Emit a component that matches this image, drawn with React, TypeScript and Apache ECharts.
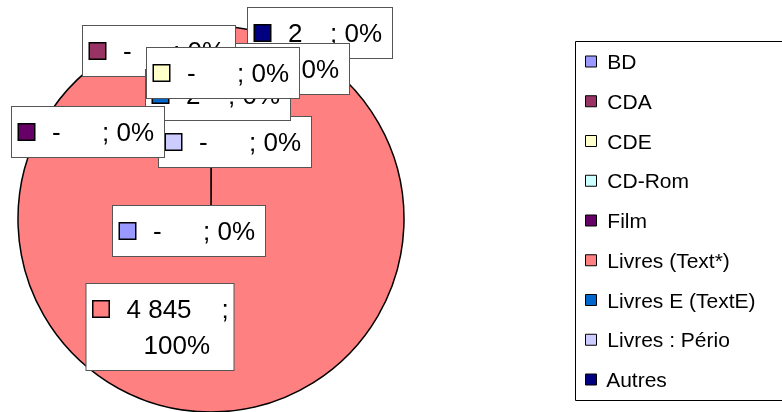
import React, { useEffect, useRef } from "react";
import * as echarts from "echarts";

const categories = ["BD", "CDA", "CDE", "CD-Rom", "Film", "Livres (Text*)", "Livres E (TextE)", "Livres : Pério", "Autres"];
const values = [0, 0, 0, 0, 0, 4845, 2, 0, 2];
const colors = ["#9999FF", "#993366", "#FFFFCC", "#CCFFFF", "#660066", "#FF8080", "#0066CC", "#CCCCFF", "#000080"];
// drawing order of the data labels (bottom to top)
const drawOrder = [8, 3, 1, 7, 6, 4, 2, 0, 5];
// label box centres (px)
const labelPos: [number, number][] = [
  [189, 231],
  [159, 51],
  [223, 73],
  [273, 69],
  [88, 132],
  [160, 327],
  [218, 95],
  [235, 142],
  [320, 33],
];

const FONT = "'Liberation Sans', Arial, sans-serif";

function fmtNum(v: number): string {
  if (v === 0) return "-";
  return String(v).replace(/\B(?=(\d{3})+(?!\d))/g, " ");
}

export default function App() {
  const ref = useRef<HTMLDivElement>(null);
  useEffect(() => {
    if (!ref.current) return;
    const chart = echarts.init(ref.current, null, { renderer: "svg" });
    const total = values.reduce((a, b) => a + b, 0);
    const txt = { fontSize: 26, fontFamily: FONT, color: "#000", align: "left" };
    const rich: any = {
      g: { ...txt, width: 18 },
      num: { ...txt, width: 50 },
      num2: { ...txt, width: 42 },
      numBig: { ...txt, width: 95 },
      tail: { ...txt, width: 62 },
      semi: { ...txt, width: 12 },
      sp: { ...txt, width: 50 },
      pct: { ...txt },
    };
    colors.forEach((c, i) => {
      rich["sq" + i] = { width: 15, height: 15, align: "left", backgroundColor: c, borderColor: "#000", borderWidth: 1.5 };
    });
    const data = drawOrder.map((i) => ({
      name: categories[i],
      value: values[i],
      itemStyle: { color: colors[i] },
    }));
    chart.setOption({
      animation: false,
      color: colors,
      legend: {
        orient: "vertical",
        left: 585,
        top: 51,
        padding: 0,
        data: categories,
        icon: "rect",
        itemWidth: 11,
        itemHeight: 11,
        itemGap: 18.75,
        itemStyle: { borderColor: "#000", borderWidth: 1 },
        formatter: (n: string) => " " + n,
        textStyle: { fontSize: 21, lineHeight: 21, fontFamily: FONT, color: "#000" },
        selectedMode: false,
      },
      graphic: [
        {
          type: "rect",
          shape: { x: 575.5, y: 41.5, width: 220, height: 359 },
          style: { fill: "#fff", stroke: "#000", lineWidth: 1 },
          z: -1,
        },
      ],
      series: [
        {
          type: "pie",
          center: [211, 219],
          radius: 193,
          startAngle: 90,
          clockwise: true,
          avoidLabelOverlap: false,
          percentPrecision: 0,
          minAngle: 0,
          itemStyle: { borderColor: "#000", borderWidth: 1.5 },
          labelLine: { show: false },
          emphasis: { disabled: true },
          label: {
            show: true,
            position: "inside",
            backgroundColor: "#fff",
            borderColor: "#555",
            borderWidth: 1,
            padding: [7, 0, 7, 7],
            lineHeight: 36,
            fontSize: 26,
            fontFamily: FONT,
            color: "#000",
            rich,
            formatter: (p: any) => {
              const i = categories.indexOf(p.name);
              const v = values[i];
              const pct = Math.round((v / total) * 100) + "%";
              if (v >= 1000) {
                return `{sq${i}|}{g| }{numBig|${fmtNum(v)}}{semi|;}\n{sp| }{pct|${pct}}`;
              }
              const key = v === 0 ? "num" : "num2";
              return `{sq${i}|}{g| }{${key}|${fmtNum(v)}}{tail|; ${pct}}`;
            },
          },
          labelLayout: (p: any) => {
            const i = drawOrder[p.dataIndex];
            return { x: labelPos[i][0], y: labelPos[i][1], align: "center", verticalAlign: "middle" };
          },
          data,
        },
      ],
    });
    return () => chart.dispose();
  }, []);
  return <div ref={ref} style={{ position: "fixed", left: 0, top: 0, width: 782, height: 412 }} />;
}
